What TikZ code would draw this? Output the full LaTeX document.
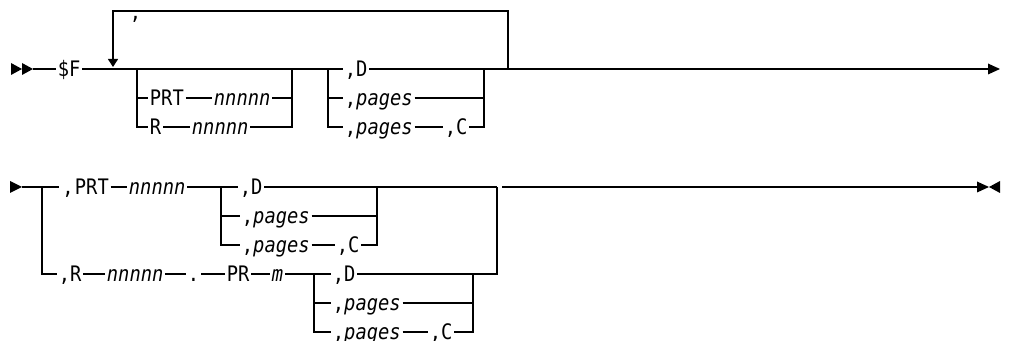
\documentclass[tikz,border=0pt]{standalone}
\usepackage{fontspec}
\newfontfamily\railfont{DejaVu Sans Mono}[FakeStretch=0.88]
\usetikzlibrary{arrows.meta}
\begin{document}
\begin{tikzpicture}[x=0.75pt,y=-0.75pt,
  every path/.style={line width=0.9pt},
  txt/.style={inner xsep=1pt, inner ysep=0pt, text height=11.6pt, text depth=0pt,
    anchor=west, font=\railfont\fontsize{16}{19}\selectfont},
  var/.style={txt, font=\railfont\itshape\fontsize{16}{19}\selectfont},
  tip/.style={-{Triangle[length=9pt,width=8pt]}},
  downtip/.style={-{Triangle[length=6pt,width=7.5pt]}},
  headmark/.style={fill=black, draw=none}]
\useasboundingbox (0,0) rectangle (1018,341);

% ---------- row 1 ----------
\fill[headmark] (11,63) -- (22,69) -- (11,75) -- cycle;
\fill[headmark] (22,63) -- (33,69) -- (22,75) -- cycle;
\coordinate (s1) at (33,69);
\node[txt] (sF) at (56,69) {\$F};
\draw (s1) -- (sF.west);

\coordinate (g1L) at (137,69);
\coordinate (g1R) at (292,69);
\coordinate (g2L) at (328,69);
\coordinate (g2R) at (484,69);
\coordinate (lpR) at (508,69);
\coordinate (lpT) at (113,11);
\coordinate (lpA) at (113,67);
\coordinate (e1) at (1000,69);

\draw (sF.east) -- (g2L);

% repeat loop
\draw[downtip] (lpR) |- (lpT) -- (lpA);
\node[txt] (sep) at (128,12) {,};

% group 1
\node[txt] (prt1) at (148,98) {PRT};
\node[var] (n1) at (212,98) {nnnnn};
\node[txt] (r1) at (148,127) {R};
\node[var] (n2) at (190,127) {nnnnn};
\draw (g1L) |- (prt1.west);
\draw (prt1.east) -- (n1.west);
\draw (n1.east) -| (g1R);
\draw (g1L) |- (r1.west);
\draw (r1.east) -- (n2.west);
\draw (n2.east) -| (g1R);

% group 2
\node[txt] (d1) at (343,69) {,D};
\node[txt] (p1) at (343,98) {,\itshape pages};
\node[txt] (p2) at (343,127) {,\itshape pages};
\node[txt] (c1) at (443,127) {,C};
\draw (g2L) -- (d1.west);
\draw[tip] (d1.east) -- (e1);
\draw (g2L) |- (p1.west);
\draw (p1.east) -| (g2R);
\draw (g2L) |- (p2.west);
\draw (p2.east) -- (c1.west);
\draw (c1.east) -| (g2R);

% ---------- row 2 ----------
\fill[headmark] (10,181) -- (22,187) -- (10,193) -- cycle;
\coordinate (s2) at (22,187);
\coordinate (bL) at (42,187);
\coordinate (bR) at (497,187);
\draw (s2) -- (bL);

\node[txt] (prt2) at (59,187) {\kern1pt,\kern1pt PRT};
\node[var] (n3) at (127,187) {nnnnn};
\draw (bL) -- (prt2.west);
\draw (prt2.east) -- (n3.west);

\coordinate (g3L) at (221,187);
\coordinate (g3R) at (377,187);
\draw (n3.east) -- (g3L);
\node[txt] (d2) at (238,187) {,D};
\node[txt] (p3) at (240,216) {,\itshape pages};
\node[txt] (p4) at (240,245) {,\itshape pages};
\node[txt] (c2) at (335,245) {,C};
\draw (g3L) -- (d2.west);
\draw (d2.east) -- (bR);
\draw (g3L) |- (p3.west);
\draw (p3.east) -| (g3R);
\draw (g3L) |- (p4.west);
\draw (p4.east) -- (c2.west);
\draw (c2.east) -| (g3R);

% lower branch
\node[txt] (r2) at (57,274) {,R};
\node[var] (n4) at (105,274) {nnnnn};
\node[txt] (dot) at (186,274) {.};
\node[txt] (pr) at (225,274) {PR};
\node[var] (m) at (270,274) {m};
\draw (bL) |- (r2.west);
\draw (r2.east) -- (n4.west);
\draw (n4.east) -- (dot.west);
\draw (dot.east) -- (pr.west);
\draw (pr.east) -- (m.west);

\coordinate (g4L) at (314,274);
\coordinate (g4R) at (473,274);
\draw (m.east) -- (g4L);
\node[txt] (d3) at (331,274) {,D};
\node[txt] (p5) at (331,303) {,\itshape pages};
\node[txt] (p6) at (331,332) {,\itshape pages};
\node[txt] (c3) at (428,332) {,C};
\draw (g4L) -- (d3.west);
\draw (d3.east) -- (g4R) -| (bR);
\draw (g4L) |- (p5.west);
\draw (p5.east) -| (g4R);
\draw (g4L) |- (p6.west);
\draw (p6.east) -- (c3.west);
\draw (c3.east) -| (g4R);

% end of statement
\coordinate (e2s) at (502,187);
\coordinate (e2m) at (524,187);
\coordinate (e2) at (989,187);
\draw[line width=2pt] (e2s) -- (e2m);
\draw[tip] (e2m) -- (e2);
\fill[headmark] (1000,181) -- (989,187) -- (1000,193) -- cycle;
\end{tikzpicture}
\end{document}
